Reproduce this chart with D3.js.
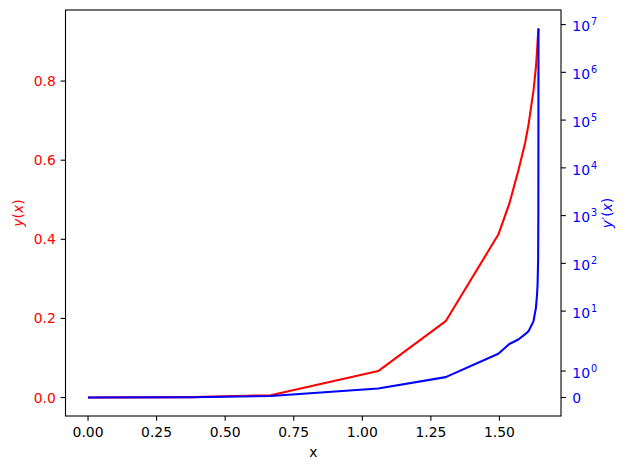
<!DOCTYPE html>
<html>
<head>
<meta charset="utf-8">
<script src="https://cdn.jsdelivr.net/npm/d3@7"></script>
<style>
  body { margin: 0; background: #fff; }
  svg { font-family: "DejaVu Sans", sans-serif; }
</style>
</head>
<body>
<div id="chart"></div>
<script>
// solver output points
const xVals  = [0, 0.38, 0.666, 1.058, 1.304, 1.496, 1.536, 1.569, 1.594, 1.606, 1.624, 1.633, 1.637, 1.639, 1.641, 1.6418, 1.6421, 1.6423];
const yVals  = [0, 0.001, 0.006, 0.067, 0.193, 0.412, 0.49, 0.574, 0.645, 0.69, 0.775, 0.835, 0.875, 0.9, 0.922, 0.929, 0.932, 0.933];
const dyVals = [0, 0.01, 0.06, 0.34, 0.77, 1.65, 2.05, 2.55, 3.3, 3.8, 6.1, 11.7, 22, 36, 120, 1000, 30000, 8.3e6];

const xTicks  = [0, 0.25, 0.5, 0.75, 1.0, 1.25, 1.5];
const yTicks  = [0, 0.2, 0.4, 0.6, 0.8];
const dyTicks = [0, 1, 10, 100, 1e3, 1e4, 1e5, 1e6, 1e7];

const W = 630, H = 470;
const L = 65.5, R = 561, T = 10, B = 416;
const FS = 13.9, TICK = 4.86;

// matplotlib-style symlog (base 10, linthresh 2, linscale 1)
const LINTHRESH = 2, LINADJ = 1 / (1 - 1 / 10);
function symlog(v) {
    const a = Math.abs(v);
    if (a <= LINTHRESH) return v * LINADJ;
    return Math.sign(v) * LINTHRESH * (LINADJ + Math.log10(a / LINTHRESH));
}

function padded(lo, hi) {
    const r = hi - lo;
    return [lo - 0.05 * r, hi + 0.05 * r];
}

const svg = d3.select('#chart').append('svg')
    .attr('width', W).attr('height', H);

const x = d3.scaleLinear().domain(padded(0, d3.max(xVals))).range([L, R]);
const y = d3.scaleLinear().domain(padded(0, d3.max(yVals))).range([B, T]);
const yr = d3.scaleLinear().domain(padded(0, symlog(d3.max(dyVals)))).range([B, T]);

const pts = xVals.map((v, i) => ({ x: v, y: yVals[i], dy: dyVals[i] }));

// red curve, left axis
svg.append('path')
    .datum(pts)
    .attr('fill', 'none')
    .attr('stroke', '#ff0000')
    .attr('stroke-width', 2.08)
    .attr('stroke-linejoin', 'round')
    .attr('d', d3.line().x(d => x(d.x)).y(d => y(d.y)));

// blue curve, right (symlog) axis
svg.append('path')
    .datum(pts)
    .attr('fill', 'none')
    .attr('stroke', '#0000ff')
    .attr('stroke-width', 2.08)
    .attr('stroke-linejoin', 'round')
    .attr('d', d3.line().x(d => x(d.x)).y(d => yr(symlog(d.dy))));

// frame
svg.append('rect')
    .attr('x', L).attr('y', T)
    .attr('width', R - L).attr('height', B - T)
    .attr('fill', 'none').attr('stroke', '#000').attr('stroke-width', 1.1);

// x ticks
const gx = svg.append('g');
xTicks.forEach(t => {
    const px = x(t);
    gx.append('line').attr('x1', px).attr('x2', px).attr('y1', B).attr('y2', B + TICK)
        .attr('stroke', '#000').attr('stroke-width', 1.1);
    gx.append('text').attr('x', px).attr('y', 437)
        .attr('text-anchor', 'middle').attr('font-size', FS).attr('fill', '#000')
        .text(d3.format('.2f')(t));
});
svg.append('text').attr('x', (L + R) / 2).attr('y', 457)
    .attr('text-anchor', 'middle').attr('font-size', FS).text('x');

// left ticks (red labels)
const gy = svg.append('g');
yTicks.forEach(t => {
    const py = y(t);
    gy.append('line').attr('x1', L - TICK).attr('x2', L).attr('y1', py).attr('y2', py)
        .attr('stroke', '#000').attr('stroke-width', 1.1);
    gy.append('text').attr('x', L - TICK - 4.9).attr('y', py + 5)
        .attr('text-anchor', 'end').attr('font-size', FS).attr('fill', '#ff0000')
        .text(d3.format('.1f')(t));
});
const ly = svg.append('text')
    .attr('transform', `translate(23,${(T + B) / 2}) rotate(-90)`)
    .attr('text-anchor', 'middle').attr('font-size', FS).attr('fill', '#ff0000');
ly.append('tspan').attr('font-style', 'italic').text('y');
ly.append('tspan').text('(');
ly.append('tspan').attr('font-style', 'italic').text('x');
ly.append('tspan').text(')');

// right ticks (blue labels), symlog
const gr = svg.append('g');
dyTicks.forEach(t => {
    const py = yr(symlog(t));
    gr.append('line').attr('x1', R).attr('x2', R + TICK).attr('y1', py).attr('y2', py)
        .attr('stroke', '#000').attr('stroke-width', 1.1);
    const txt = gr.append('text').attr('x', R + TICK + 6.5)
        .attr('font-size', FS).attr('fill', '#0000ff');
    if (t === 0) {
        txt.attr('y', py + 5).text('0');
    } else {
        txt.attr('y', py + 6.7);
        txt.append('tspan').text('10');
        txt.append('tspan').attr('font-size', 9.7).attr('dy', -6).attr('dx', 1)
            .text(Math.round(Math.log10(t)));
    }
});
const lr = svg.append('text')
    .attr('transform', `translate(612,${(T + B) / 2}) rotate(-90)`)
    .attr('text-anchor', 'middle').attr('font-size', FS).attr('fill', '#0000ff');
lr.append('tspan').attr('font-style', 'italic').text('y');
lr.append('tspan').text('\u2032(');
lr.append('tspan').attr('font-style', 'italic').text('x');
lr.append('tspan').text(')');
</script>
</body>
</html>
